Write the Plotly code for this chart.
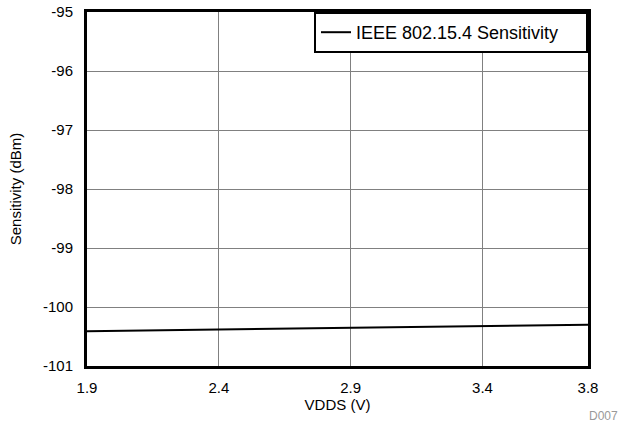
import plotly.graph_objects as go

vdds = [1.9, 2.4, 2.9, 3.4, 3.8]
sensitivity = [-100.41, -100.38, -100.36, -100.33, -100.30]
x_ticks = [1.9, 2.4, 2.9, 3.4, 3.8]
x_labels = ["1.9", "2.4", "2.9", "3.4", "3.8"]
y_ticks = [-101, -100, -99, -98, -97, -96, -95]
y_labels = ["-101", "-100", "-99", "-98", "-97", "-96", "-95"]

font = "Liberation Sans, Arial, sans-serif"

fig = go.Figure()
fig.add_trace(go.Scatter(x=vdds, y=sensitivity, mode="lines",
                         line=dict(color="black", width=2),
                         name="IEEE 802.15.4 Sensitivity"))

fig.update_layout(
    width=624, height=428,
    margin=dict(l=87, r=36, t=12, b=62, autoexpand=False),
    paper_bgcolor="white", plot_bgcolor="white",
    font=dict(family=font, size=15, color="black"),
    showlegend=True,
    legend=dict(x=1, y=1, xanchor="right", yanchor="top",
                orientation="h", entrywidth=225,
                bordercolor="black", borderwidth=2, bgcolor="white",
                font=dict(size=18), itemwidth=30,
                tracegroupgap=0),
    xaxis=dict(range=[1.9, 3.8], tickvals=x_ticks, ticktext=x_labels,
               showgrid=True, gridcolor="#808080", gridwidth=1,
               showline=True, linecolor="black", linewidth=3, mirror=True,
               ticks="outside", ticklen=6, tickcolor="rgba(0,0,0,0)",
               zeroline=False, automargin=False,
               title=dict(text="VDDS (V)", standoff=2, font=dict(size=15))),
    yaxis=dict(range=[-101, -95], tickvals=y_ticks, ticktext=y_labels,
               showgrid=True, gridcolor="#808080", gridwidth=1,
               showline=True, linecolor="black", linewidth=3, mirror=True,
               ticks="outside", ticklen=8, tickcolor="rgba(0,0,0,0)",
               zeroline=False, automargin=False,
               title=dict(text="Sensitivity (dBm)", standoff=18, font=dict(size=15))),
    annotations=[dict(text="D007", x=1.0, y=0, xref="paper", yref="paper",
                      xanchor="left", yanchor="middle", xshift=-1, yshift=-50,
                      showarrow=False, font=dict(size=12, color="#999999"))],
)
fig.write_html("out.html", config={"displayModeBar": False},
               post_script="document.body.style.margin='0';document.body.style.padding='0';window.dispatchEvent(new Event('resize'));")
